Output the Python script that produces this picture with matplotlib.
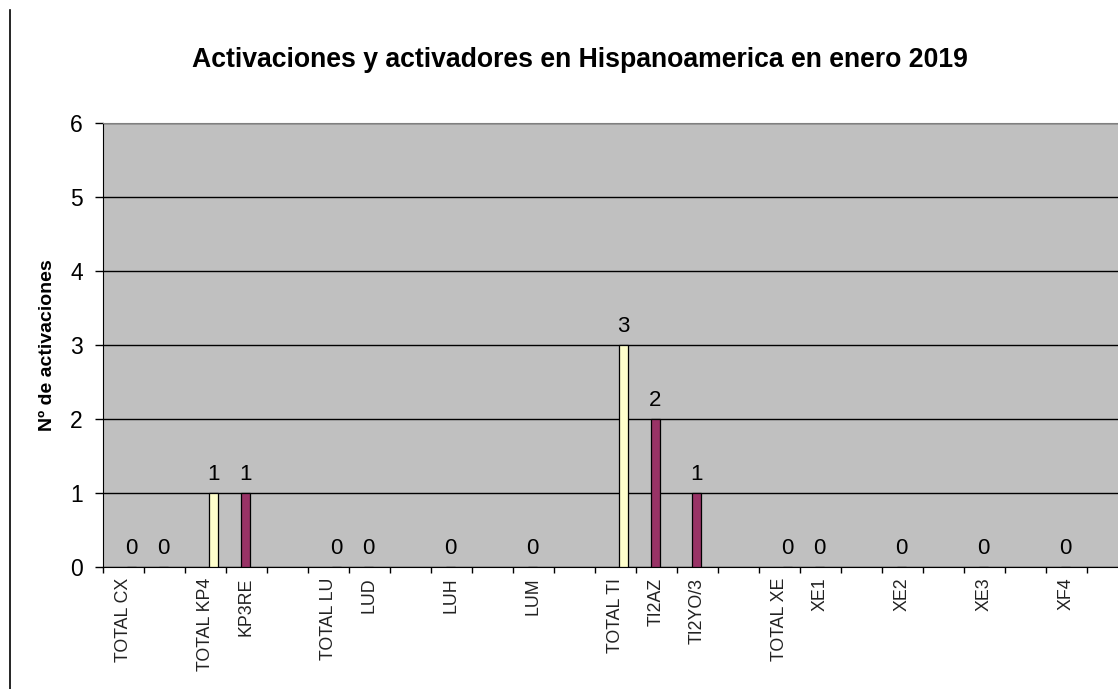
import numpy as np
import matplotlib
matplotlib.use("Agg")
import matplotlib.pyplot as plt
from matplotlib.lines import Line2D

plt.rcParams['font.family'] = ['Liberation Sans', 'DejaVu Sans']

# categories along the x axis (blank entries are empty slots in the sheet)
labels = ["TOTAL CX", "", "TOTAL KP4", "KP3RE", "", "TOTAL LU", "LUD", "",
          "LUH", "", "LUM", "", "TOTAL TI", "TI2AZ", "TI2YO/3", "",
          "TOTAL XE", "XE1", "", "XE2", "", "XE3", "", "XF4", ""]

# activations per station (purple) and per country total (yellow)
stations = [None, 0, None, 1, None, None, 0, None, 0, None, 0, None,
            None, 2, 1, None, None, 0, None, 0, None, 0, None, 0, None]
totals = [0, None, 1, None, None, 0, None, None, None, None, None, None,
          3, None, None, None, 0, None, None, None, None, None, None, None, None]

yticks = [0, 1, 2, 3, 4, 5, 6]

W, H = 1118, 689
fig = plt.figure(figsize=(W / 100, H / 100), dpi=100)
fig.patch.set_facecolor("white")

n = len(labels)
left_px, top_px, bottom_px, cat_px = 102.7, 122.7, 566.7, 41.0
ax = fig.add_axes([left_px / W, 1 - bottom_px / H,
                   cat_px * n / W, (bottom_px - top_px) / H])
ax.set_facecolor("#C0C0C0")

w = 0.222
x = np.arange(n)

def draw(values, offset, color):
    xs = [x[i] + offset for i, v in enumerate(values) if v is not None]
    vs = [v for v in values if v is not None]
    ax.bar(xs, vs, width=w, color=color, edgecolor="black", linewidth=0.9, zorder=3)
    for xi, v in zip(xs, vs):
        ax.annotate(str(v), (xi, v), xytext=(0, 5.5), textcoords="offset points",
                    ha="center", va="bottom", fontsize=16, color="black")

# the sheet leaves an empty series slot, so purple sits on the label, yellow right of it
draw(stations, -0.02, "#993366")
draw(totals, w - 0.02, "#FFFFCC")

ax.set_xlim(-0.5, n - 0.5)
ax.set_ylim(0, 6)
ax.set_yticks(yticks)
ax.set_yticklabels([str(t) for t in yticks], fontsize=16.5)
ax.yaxis.grid(True, color="black", linewidth=1.0, zorder=1)
ax.set_axisbelow(True)

# category labels at centers, tick marks at the boundaries
ax.set_xticks(x)
ax.set_xticklabels(labels, rotation=90, fontsize=12.8, color="#222222")
ax.tick_params(axis="x", which="major", length=0, pad=8)
ax.set_xticks(np.arange(n + 1) - 0.5, minor=True)
ax.tick_params(axis="x", which="minor", length=4, width=1, color="black",
               direction="out")
ax.tick_params(axis="y", length=5.8, width=1, direction="out", pad=8.5)

ax.spines["right"].set_visible(False)
ax.spines["top"].set_color("#808080")
ax.spines["left"].set_color("black")
ax.spines["bottom"].set_color("black")

ax.set_ylabel("Nº de activaciones", fontsize=14, fontweight="bold", labelpad=10)

fig.text(580 / W, 1 - 60 / H,
         "Activaciones y activadores en Hispanoamerica en enero 2019",
         ha="center", va="center", fontsize=19.2, fontweight="bold")

# left border of the chart area
fig.add_artist(Line2D([10 / W, 10 / W], [0, 1 - 10 / H], color="black",
                      linewidth=1.2, transform=fig.transFigure))

fig.savefig("out.png", dpi=100)
